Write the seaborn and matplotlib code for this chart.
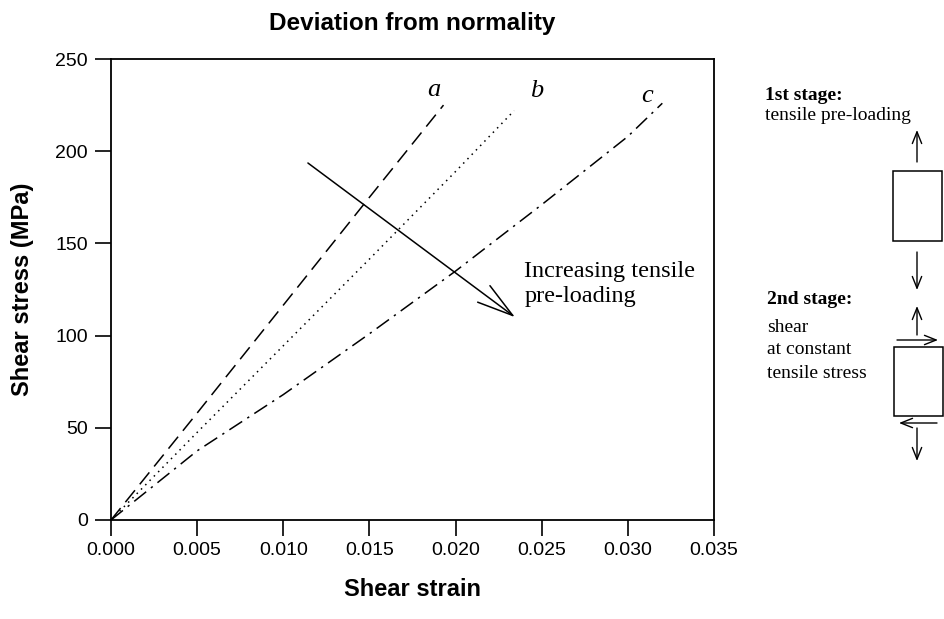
import matplotlib
matplotlib.use("Agg")
import matplotlib.pyplot as plt
from matplotlib.patches import Rectangle
import seaborn as sns
import pandas as pd

# Shear stress-strain curves after different tensile pre-loads
strain_a = [0.0, 0.005, 0.010, 0.015, 0.0193]
stress_a = [0.0, 58.0, 116.5, 175.0, 225.0]

strain_b = [0.0, 0.005, 0.010, 0.015, 0.020, 0.0234]
stress_b = [0.0, 47.5, 94.5, 141.5, 189.0, 222.0]

strain_c = [0.0, 0.005, 0.010, 0.015, 0.020, 0.025, 0.030, 0.032]
stress_c = [0.0, 37.5, 68.0, 101.0, 135.0, 171.0, 208.0, 226.0]

curve_labels = ["a", "b", "c"]
x_ticks = [0.000, 0.005, 0.010, 0.015, 0.020, 0.025, 0.030, 0.035]
y_ticks = [0, 50, 100, 150, 200, 250]

sns.set_style("ticks")
plt.rcParams["font.family"] = ["Liberation Sans", "DejaVu Sans"]
plt.rcParams["text.color"] = "black"
plt.rcParams["axes.labelcolor"] = "black"

W, H = 945, 619
fig = plt.figure(figsize=(W / 100, H / 100), dpi=100)
ax = fig.add_axes([111 / W, 1 - 520 / H, (714 - 111) / W, (520 - 59) / H])

curves = [
    (strain_a, stress_a, (0, (10, 5))),
    (strain_b, stress_b, (0, (1, 3))),
    (strain_c, stress_c, (0, (10, 4, 1.5, 4))),
]
label_offsets = [(-7, 11), (16, 14), (-11, 5)]
for (xs, ys, ls), lab, off in zip(curves, curve_labels, label_offsets):
    df = pd.DataFrame({"strain": xs, "stress": ys})
    sns.lineplot(data=df, x="strain", y="stress", ax=ax, color="black",
                 linestyle=ls, linewidth=1.1)
    ax.annotate(lab, xy=(xs[-1], ys[-1]), xytext=off, textcoords="offset points",
                ha="center", va="center", fontsize=19, style="italic",
                family="Liberation Serif")

# Trend arrow across the curves
ax.annotate("", xy=(0.02345, 110), xytext=(0.01143, 193.6),
            arrowprops=dict(arrowstyle="->, head_length=1.3, head_width=0.37",
                            mutation_scale=20, color="black", lw=1.1,
                            shrinkA=0, shrinkB=0))
ax.text(0.0240, 128, "Increasing tensile\npre-loading", family="Liberation Serif",
        fontsize=17.5, ha="left", va="center", linespacing=1.2)

ax.set_xlim(0, 0.035)
ax.set_ylim(0, 250)
ax.set_xticks(x_ticks)
ax.set_xticklabels([f"{v:.3f}" for v in x_ticks])
ax.set_yticks(y_ticks)
ax.tick_params(direction="out", length=11.5, width=1.2, labelsize=14,
               color="black", labelcolor="black")
ax.tick_params(axis="x", pad=4)
ax.tick_params(axis="y", pad=5)
for s in ax.spines.values():
    s.set_visible(True)
    s.set_color("black")
    s.set_linewidth(1.3)

ax.set_xlabel("Shear strain", fontsize=17, fontweight="bold")
ax.set_ylabel("Shear stress (MPa)", fontsize=17, fontweight="bold")
ax.xaxis.set_label_coords(0.5, -0.126)
ax.yaxis.set_label_coords(-0.128, 0.5)
ax.set_title("Deviation from normality", fontsize=17.5, fontweight="bold", pad=21)

# Loading schematic on the right, drawn in pixel coordinates
ov = fig.add_axes([0, 0, 1, 1], facecolor="none")
ov.set_xlim(0, W)
ov.set_ylim(H, 0)
ov.axis("off")

serif = "Liberation Serif"
ov.text(765, 95, "1st stage:", family=serif, fontsize=14, fontweight="bold", va="center")
ov.text(765, 115, "tensile pre-loading", family=serif, fontsize=14, va="center")
ov.text(767, 300, "2nd stage:", family=serif, fontsize=14, fontweight="bold", va="center")
ov.text(767, 327, "shear", family=serif, fontsize=14, va="center")
ov.text(767, 350, "at constant", family=serif, fontsize=14, va="center")
ov.text(767, 373, "tensile stress", family=serif, fontsize=14, va="center")

ov.add_patch(Rectangle((893, 171), 49, 70, fill=False, ec="black", lw=1.1))
ov.add_patch(Rectangle((894, 347), 49, 69, fill=False, ec="black", lw=1.1))

small = dict(arrowstyle="->, head_length=0.7, head_width=0.28", mutation_scale=12,
             color="black", lw=1.0, shrinkA=0, shrinkB=0)
for start, end in [((917, 162), (917, 130)), ((917, 252), (917, 290)),
                   ((917, 335), (917, 306)), ((897, 340), (938, 340)),
                   ((937, 423), (899, 423)), ((917, 428), (917, 461))]:
    ov.annotate("", xy=end, xytext=start, arrowprops=small)

fig.savefig("out.png", dpi=100)
